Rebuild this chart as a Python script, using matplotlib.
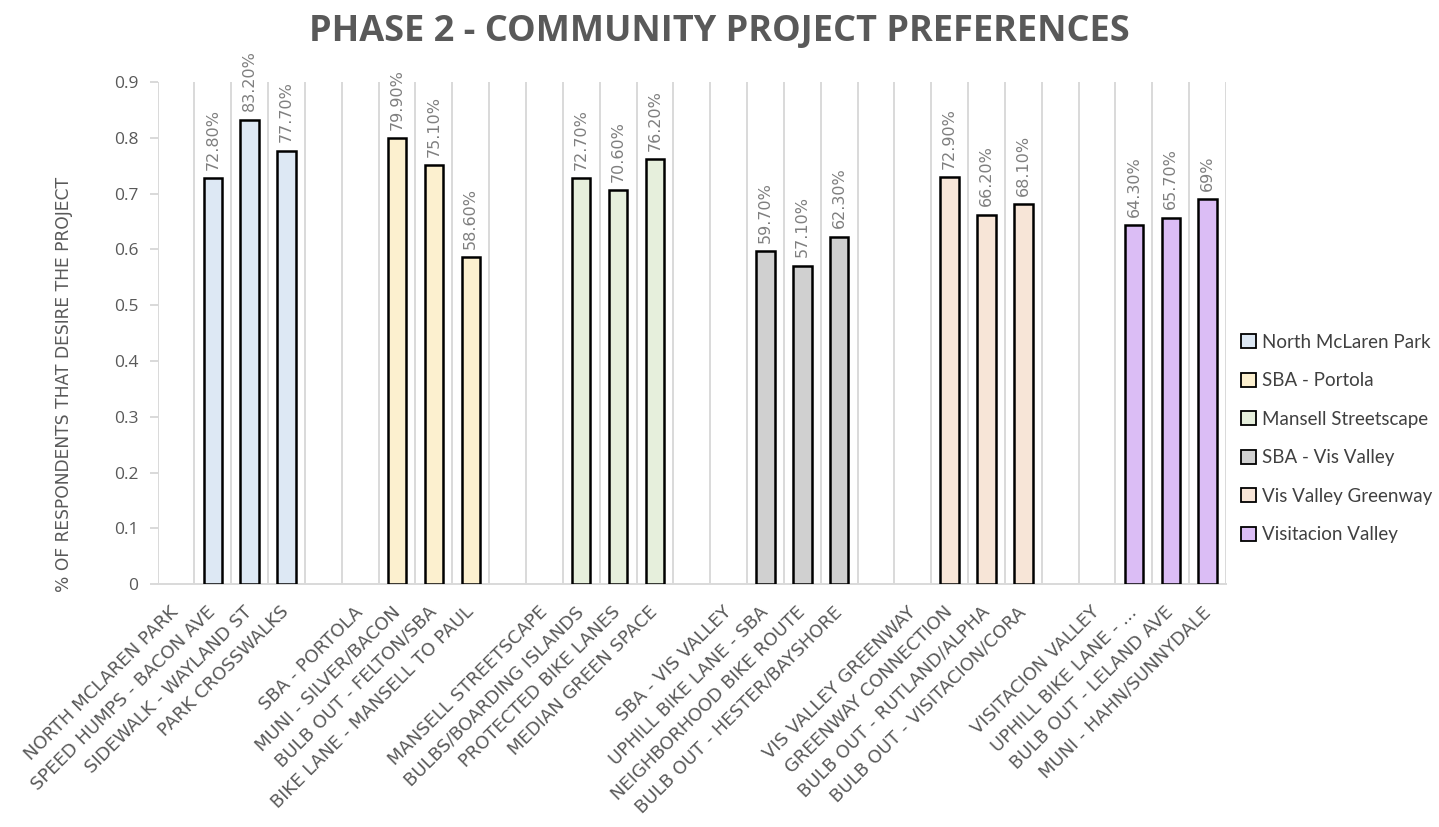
import matplotlib
matplotlib.use("Agg")
import matplotlib.pyplot as plt
from matplotlib.patches import Patch

# ── Data ──────────────────────────────────────────────────────────────────────
GROUPS = [
    "North McLaren Park",
    "SBA - Portola",
    "Mansell Streetscape",
    "SBA - Vis Valley",
    "Vis Valley Greenway",
    "Visitacion Valley",
]
PROJECTS = [
    ["SPEED HUMPS - BACON AVE", "SIDEWALK - WAYLAND ST", "PARK CROSSWALKS"],
    ["MUNI - SILVER/BACON", "BULB OUT - FELTON/SBA", "BIKE LANE - MANSELL TO PAUL"],
    ["BULBS/BOARDING ISLANDS", "PROTECTED BIKE LANES", "MEDIAN GREEN SPACE"],
    ["UPHILL BIKE LANE - SBA", "NEIGHBORHOOD BIKE ROUTE", "BULB OUT - HESTER/BAYSHORE"],
    ["GREENWAY CONNECTION", "BULB OUT - RUTLAND/ALPHA", "BULB OUT - VISITACION/CORA"],
    ["UPHILL BIKE LANE - ...", "BULB OUT - LELAND AVE", "MUNI - HAHN/SUNNYDALE"],
]
VALUES = [
    [0.728, 0.832, 0.777],
    [0.799, 0.751, 0.586],
    [0.727, 0.706, 0.762],
    [0.597, 0.571, 0.623],
    [0.729, 0.662, 0.681],
    [0.643, 0.657, 0.690],
]
VALUE_LABELS = [
    ["72.80%", "83.20%", "77.70%"],
    ["79.90%", "75.10%", "58.60%"],
    ["72.70%", "70.60%", "76.20%"],
    ["59.70%", "57.10%", "62.30%"],
    ["72.90%", "66.20%", "68.10%"],
    ["64.30%", "65.70%", "69%"],
]
COLORS = ["#dde8f4", "#fcf0cf", "#e6efdc", "#d0d0d0", "#f7e5d7", "#dbbdf5"]

TEXT = "#595959"
GRID = "#d9d9d9"
FONT = "DejaVu Sans"

# ── Category layout: header, projects, blank spacer per group ─────────────────
labels = []
for gi, name in enumerate(GROUPS):
    labels.append(name.upper())
    labels.extend(PROJECTS[gi])
    if gi < len(GROUPS) - 1:
        labels.append("")
n_cat = len(labels)

fig = plt.figure(figsize=(14.39, 8.27), dpi=100)
ax = fig.add_axes([0.1095, 0.2935, 0.7425, 0.6075])

pos = 0
for gi, name in enumerate(GROUPS):
    xs = [pos + 1 + k for k in range(len(VALUES[gi]))]
    bars = ax.bar(xs, VALUES[gi], width=0.5, color=COLORS[gi],
                  edgecolor="black", linewidth=1.8, zorder=3)
    for b, txt in zip(bars, VALUE_LABELS[gi]):
        ax.annotate(txt, (b.get_x() + b.get_width() / 2, b.get_height()),
                    xytext=(0, 6), textcoords="offset points",
                    rotation=90, ha="center", va="bottom",
                    color="#7f7f7f", fontsize=11.5, family=FONT)
    pos += len(VALUES[gi]) + 2

ax.set_xlim(-0.5, n_cat - 0.5)
ax.set_ylim(0, 0.9)

# vertical grid lines at category boundaries
for k in range(n_cat + 1):
    ax.axvline(k - 0.5, color=GRID, lw=1.4, zorder=1)

ax.set_xticks(range(n_cat))
ax.set_xticklabels(labels, rotation=45, ha="right", va="center",
                   rotation_mode="anchor", fontsize=13, family=FONT, color=TEXT)
ax.tick_params(axis="x", length=0, pad=18)

ax.set_yticks([i / 10 for i in range(10)])
ax.set_yticklabels(["0"] + [f"{i / 10:.1f}" for i in range(1, 10)],
                   fontsize=12.5, family="Open Sans", color=TEXT)
ax.tick_params(axis="y", length=6, color=GRID, width=1.4, pad=8)

for side in ("top", "right", "left"):
    ax.spines[side].set_visible(False)
ax.spines["bottom"].set_color(GRID)
ax.spines["bottom"].set_linewidth(1.4)

ax.set_ylabel("% OF RESPONDENTS THAT DESIRE THE PROJECT", fontsize=12.3,
              family=FONT, color=TEXT)
ax.yaxis.set_label_coords(-0.079, 0.398)

fig.text(0.5, 0.961, "PHASE 2 - COMMUNITY PROJECT PREFERENCES", ha="center",
         va="center", fontsize=26, fontweight="bold", family="Open Sans",
         color=TEXT)

handles = [Patch(facecolor=c, edgecolor="black", linewidth=1.3) for c in COLORS]
fig.legend(handles, GROUPS, loc="upper left", bbox_to_anchor=(0.851, 0.617),
           frameon=False, handlelength=0.75, handleheight=0.75,
           handletextpad=0.35, labelspacing=1.15,
           prop={"family": "Lato", "size": 13.5}, labelcolor="#404040")

fig.savefig("out.png", dpi=100)
